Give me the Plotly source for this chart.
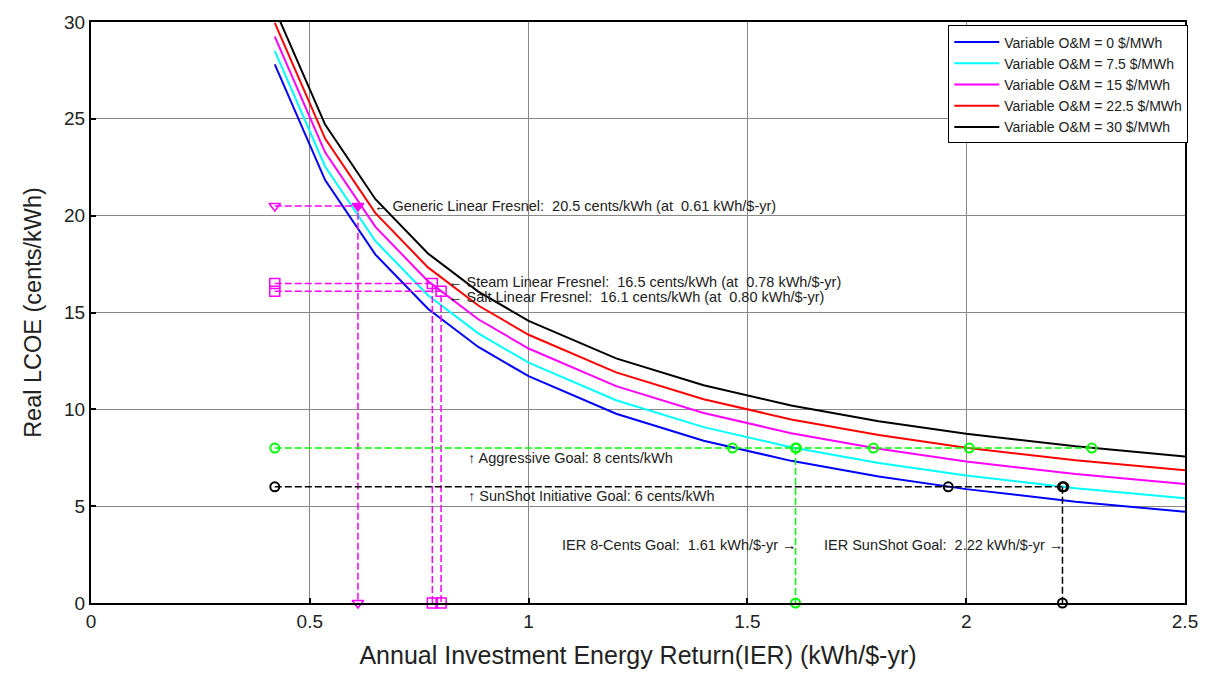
import plotly.graph_objects as go

# IER sample points of the LCOE curves (kWh/$-yr)
ier = [0.42, 0.535, 0.65, 0.77, 0.885, 1.0, 1.2, 1.4, 1.6, 1.8, 2.0, 2.25, 2.5]

# Real LCOE (cents/kWh) for each variable O&M level
lcoe_om_0 = [27.81, 21.84, 17.99, 15.19, 13.22, 11.71, 9.77, 8.38, 7.34, 6.53, 5.88, 5.23, 4.71]
lcoe_om_7_5 = [28.51, 22.54, 18.69, 15.89, 13.92, 12.41, 10.47, 9.08, 8.04, 7.23, 6.58, 5.93, 5.41]
lcoe_om_15 = [29.24, 23.27, 19.42, 16.62, 14.65, 13.14, 11.20, 9.81, 8.77, 7.96, 7.31, 6.66, 6.14]
lcoe_om_22_5 = [29.95, 23.98, 20.13, 17.33, 15.36, 13.85, 11.91, 10.52, 9.48, 8.67, 8.02, 7.37, 6.85]
lcoe_om_30 = [30.67, 24.70, 20.85, 18.05, 16.08, 14.57, 12.63, 11.24, 10.20, 9.39, 8.74, 8.09, 7.57]

om_labels = ["Variable O&M = 0 $/MWh", "Variable O&M = 7.5 $/MWh", "Variable O&M = 15 $/MWh",
             "Variable O&M = 22.5 $/MWh", "Variable O&M = 30 $/MWh"]
om_colors = ["#0000ff", "#00ffff", "#ff00ff", "#ff0000", "#000000"]

# Linear Fresnel design points
fresnel_names = ["Generic Linear Fresnel", "Steam Linear Fresnel", "Salt Linear Fresnel"]
fresnel_lcoe = [20.5, 16.5, 16.1]
fresnel_ier = [0.61, 0.78, 0.80]
fresnel_symbols = ["triangle-down", "square", "square"]

# Cost goals and the IER at which each curve meets them
x_left = 0.42
goal_8 = 8
goal_8_cross = [1.466, 1.612, 1.788, 2.007, 2.287]
goal_6 = 6
goal_6_cross = [1.959, 2.223]
ier_goal_8 = 1.61
ier_goal_6 = 2.22

MAG = "#ff00ff"
GRN = "#00ff00"
DASH = "7px,3px"

fig = go.Figure()

curves = [lcoe_om_0, lcoe_om_7_5, lcoe_om_15, lcoe_om_22_5, lcoe_om_30]
for vals, name, col in zip(curves, om_labels, om_colors):
    fig.add_trace(go.Scatter(x=ier, y=vals, mode="lines", name=name,
                             line=dict(color=col, width=2)))

# Fresnel design points: horizontal and vertical guides
for name, lc, xi, sym in zip(fresnel_names, fresnel_lcoe, fresnel_ier, fresnel_symbols):
    center_sym = sym if sym == "triangle-down" else sym + "-open"
    fig.add_trace(go.Scatter(
        x=[x_left, xi, xi], y=[lc, lc, 0], mode="lines+markers", showlegend=False,
        line=dict(color=MAG, width=1.5, dash=DASH),
        marker=dict(symbol=[sym + "-open", center_sym, sym + "-open"], size=10,
                    color=MAG, line=dict(color=MAG, width=1.5)),
        cliponaxis=False))

# 8 cents/kWh goal
fig.add_trace(go.Scatter(
    x=[x_left] + goal_8_cross, y=[goal_8] * (len(goal_8_cross) + 1), mode="lines+markers",
    showlegend=False, line=dict(color=GRN, width=1.5, dash=DASH),
    marker=dict(symbol="circle-open", size=9, color=GRN, line=dict(width=2))))
fig.add_trace(go.Scatter(
    x=[ier_goal_8, ier_goal_8], y=[goal_8, 0], mode="lines+markers", showlegend=False,
    line=dict(color=GRN, width=1.5, dash=DASH),
    marker=dict(symbol="circle-open", size=9, color=GRN, line=dict(width=2)),
    cliponaxis=False))

# 6 cents/kWh SunShot goal
fig.add_trace(go.Scatter(
    x=[x_left] + goal_6_cross, y=[goal_6] * (len(goal_6_cross) + 1), mode="lines+markers",
    showlegend=False, line=dict(color="#000000", width=1.5, dash=DASH),
    marker=dict(symbol="circle-open", size=9, color="#000000", line=dict(width=2))))
fig.add_trace(go.Scatter(
    x=[ier_goal_6, ier_goal_6], y=[goal_6, 0], mode="lines+markers", showlegend=False,
    line=dict(color="#000000", width=1.5, dash=DASH),
    marker=dict(symbol="circle-open", size=9, color="#000000", line=dict(width=2)),
    cliponaxis=False))

FONT = "Liberation Sans, Arial, sans-serif"
ann_font = dict(family=FONT, size=14.5, color="#222222")

annotations = []
fresnel_label_pos = [(0.641, 20.5), (0.812, 16.6), (0.812, 15.8)]
for name, lc, xi, (ax, ay) in zip(fresnel_names, fresnel_lcoe, fresnel_ier, fresnel_label_pos):
    annotations.append(dict(
        x=ax, y=ay, xref="x", yref="y", xanchor="left", yanchor="middle", showarrow=False,
        text=f"\u2190 {name}:  {lc:.1f} cents/kWh (at  {xi:.2f} kWh/$-yr)", font=ann_font))

annotations += [
    dict(x=0.858, y=7.49, xref="x", yref="y", xanchor="left", yanchor="middle", showarrow=False,
         text=f"\u2191 Aggressive Goal: {goal_8} cents/kWh", font=ann_font),
    dict(x=0.858, y=5.54, xref="x", yref="y", xanchor="left", yanchor="middle", showarrow=False,
         text=f"\u2191 SunShot Initiative Goal: {goal_6} cents/kWh", font=ann_font),
    dict(x=ier_goal_8 + 0.008, y=2.97, xref="x", yref="y", xanchor="right", yanchor="middle",
         showarrow=False, text=f"IER 8-Cents Goal:  {ier_goal_8:.2f} kWh/$-yr \u2192", font=ann_font),
    dict(x=ier_goal_6 + 0.006, y=2.97, xref="x", yref="y", xanchor="right", yanchor="middle",
         showarrow=False, text=f"IER SunShot Goal:  {ier_goal_6:.2f} kWh/$-yr \u2192", font=ann_font),
]

axis_common = dict(
    showline=True, linecolor="#000000", linewidth=2, mirror=True,
    showgrid=True, gridcolor="#888888", gridwidth=1,
    ticks="inside", ticklen=5, tickcolor="#000000", tickwidth=1.5,
    zeroline=False, tickfont=dict(family=FONT, size=19, color="#222222"),
)

fig.update_layout(
    width=1210, height=679,
    margin=dict(l=91, r=22, t=18, b=76),
    paper_bgcolor="white", plot_bgcolor="white",
    xaxis=dict(range=[0, 2.5], tickvals=[0, 0.5, 1, 1.5, 2, 2.5],
               ticktext=["0", "0.5", "1", "1.5", "2", "2.5"],
               title=dict(text="Annual Investment Energy Return(IER) (kWh/$-yr)",
                          font=dict(family=FONT, size=25, color="#222222"), standoff=16),
               **axis_common),
    yaxis=dict(range=[0, 30], tickvals=[0, 5, 10, 15, 20, 25, 30],
               title=dict(text="Real LCOE (cents/kWh)",
                          font=dict(family=FONT, size=23.5, color="#222222"), standoff=16),
               **axis_common),
    legend=dict(x=1.003, y=0.994, xanchor="right", yanchor="top",
                bgcolor="white", bordercolor="#000000", borderwidth=1,
                font=dict(family=FONT, size=14, color="#222222"),
                itemwidth=45, tracegroupgap=0),
    annotations=annotations,
    showlegend=True,
)

fig.write_html("out.html")
